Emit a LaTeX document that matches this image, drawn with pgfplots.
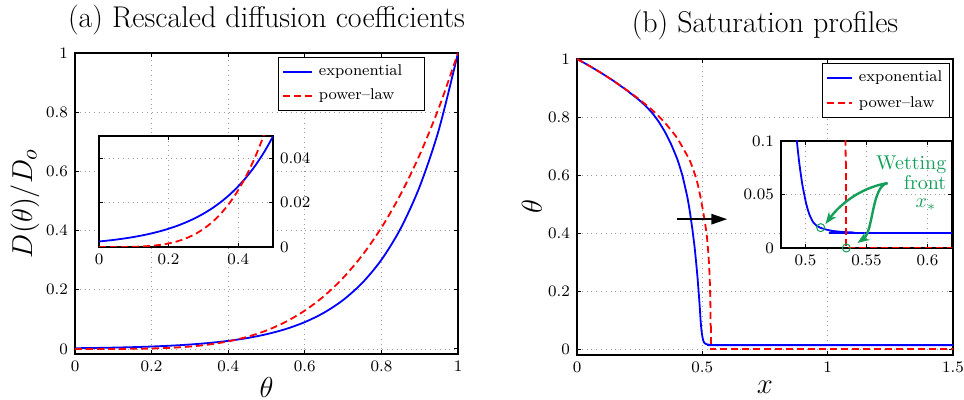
\documentclass[border=0pt]{standalone}
\usepackage{pgfplots}
\pgfplotsset{compat=1.18}
\usetikzlibrary{arrows.meta}
\definecolor{wetgreen}{RGB}{20,160,90}

\pgfplotsset{
  matstyle/.style={
    scale only axis,
    axis line style={line width=0.7pt},
    tick style={line width=0.5pt, black},
    major tick length=2pt,
    tick align=inside,
    grid=major,
    major grid style={dotted, gray!80, line width=0.4pt},
    tick label style={font=\fontsize{7.9}{9}\selectfont},
    label style={font=\fontsize{15}{17}\selectfont, inner sep=0pt},
    scaled ticks=false,
    clip mode=individual,
    /pgf/number format/fixed,
    legend cell align=left,
    legend style={font=\fontsize{7.8}{9.4}\selectfont, draw=black, line width=0.5pt,
      inner sep=1.8pt, row sep=1pt, /tikz/every odd column/.style={column sep=1pt}},
    legend image code/.code={\draw[#1] (0pt,0pt) -- (14.5pt,0pt);},
  },
  expo/.style={blue, line width=0.9pt},
  powl/.style={red, line width=0.9pt, dash pattern=on 3.5pt off 2pt},
}

% rescaled diffusion coefficients, theta vs D/Do
\pgfplotstableread{
th    expo      powl
0     0.002479  0
0.05  0.003346  0.0000063
0.1   0.004517  0.0001
0.15  0.006097  0.000506
0.2   0.008230  0.0016
0.25  0.011109  0.003906
0.3   0.014996  0.0081
0.35  0.020242  0.015006
0.4   0.027324  0.0256
0.45  0.036883  0.041006
0.5   0.049787  0.0625
0.55  0.067206  0.091506
0.6   0.090718  0.1296
0.65  0.122456  0.178506
0.7   0.165299  0.2401
0.75  0.223130  0.316406
0.8   0.301194  0.4096
0.85  0.406570  0.522006
0.9   0.548812  0.6561
0.95  0.740818  0.814506
1     1         1
}\coefs

\pgfplotstableread{
th     expo      powl
0      0.002479  0
0.025  0.002880  0.0000004
0.05   0.003346  0.0000063
0.075  0.003888  0.0000316
0.1    0.004517  0.0001
0.125  0.005248  0.000244
0.15   0.006097  0.000506
0.175  0.007084  0.000938
0.2    0.008230  0.0016
0.225  0.009562  0.002563
0.25   0.011109  0.003906
0.275  0.012907  0.005719
0.3    0.014996  0.0081
0.325  0.017424  0.011157
0.35   0.020242  0.015006
0.375  0.023518  0.019775
0.4    0.027324  0.0256
0.425  0.031746  0.032625
0.45   0.036883  0.041006
0.475  0.042852  0.050907
0.5    0.049787  0.0625
}\coefsfine

% saturation profiles
\pgfplotstableread{
x       th
0       1
0.05    0.976
0.1     0.95
0.15    0.922
0.2     0.891
0.25    0.857
0.275   0.837
0.3     0.814
0.325   0.785
0.35    0.75
0.375   0.707
0.4     0.655
0.42    0.60
0.44    0.525
0.45    0.475
0.46    0.415
0.47    0.345
0.48    0.255
0.485   0.20
0.49    0.142
0.493   0.1
0.495   0.079
0.4975  0.059
0.5005  0.042
0.503   0.032
0.506   0.0246
0.509   0.021
0.512   0.019
0.517   0.0172
0.522   0.016
0.53    0.015
0.54    0.0145
0.56    0.014
1.5     0.014
}\satexp

\pgfplotstableread{
x       th
0       1
0.05    0.976
0.1     0.95
0.15    0.922
0.2     0.892
0.25    0.86
0.3     0.824
0.35    0.781
0.4     0.727
0.45    0.65
0.475   0.59
0.487   0.548
0.5     0.49
0.51    0.44
0.518   0.39
0.523   0.341
0.527   0.29
0.53    0.23
0.532   0.16
0.533   0.08
}\satpow

\pgfplotstableread{
x       th
0.533   0.08
0.533   0
1.5     0
}\satpowtail

\begin{document}
\begin{tikzpicture}
\useasboundingbox (0,0) rectangle (482pt,200pt);

% (a)
\begin{axis}[matstyle, at={(37.5pt,23pt)}, anchor=south west,
  width=191.5pt, height=150.5pt,
  xmin=0, xmax=1, ymin=-0.017, ymax=1,
  xtick={0,0.2,0.4,0.6,0.8,1}, ytick={0,0.2,0.4,0.6,0.8,1},
  xlabel={$\theta$}, ylabel={$D(\theta)/D_o$},
  xlabel style={at={(axis description cs:0.5,-0.11)}, anchor=center},
  ylabel style={at={(axis description cs:-0.1305,0.5)}, anchor=center},
  legend style={at={(axis description cs:0.914,0.987)}, anchor=north east},
]
\addplot[expo, smooth] table[x=th, y=expo] {\coefs};
\addlegendentry{\makebox[49pt][l]{exponential}}
\addplot[powl, smooth] table[x=th, y=powl] {\coefs};
\addlegendentry{power--law}
\end{axis}

\begin{axis}[matstyle, at={(49.5pt,76.5pt)}, anchor=south west,
  width=87pt, height=55.5pt,
  axis background/.style={fill=white},
  xmin=0, xmax=0.5, ymin=0, ymax=0.05,
  xtick={0,0.2,0.4}, ytick={0,0.02,0.04},
  yticklabel pos=right,
]
\addplot[expo, smooth] table[x=th, y=expo] {\coefsfine};
\addplot[powl, smooth] table[x=th, y=powl] {\coefsfine};
\end{axis}

% (b)
\begin{axis}[matstyle, at={(288.5pt,22.5pt)}, anchor=south west,
  width=188pt, height=148pt,
  xmin=0, xmax=1.5, ymin=-0.02, ymax=1,
  xtick={0,0.5,1,1.5}, ytick={0,0.2,0.4,0.6,0.8,1},
  xlabel={$x$}, ylabel={$\theta$},
  xlabel style={at={(axis description cs:0.5,-0.108)}, anchor=center},
  ylabel style={at={(axis description cs:-0.1197,0.5)}, anchor=center},
  legend style={at={(axis description cs:0.992,0.986)}, anchor=north east,
    inner sep=1.6pt, row sep=1.8pt},
  legend image code/.code={\draw[#1] (0pt,0pt) -- (12.5pt,0pt);},
]
\addplot[expo, smooth, tension=0.3] table[x=x, y=th] {\satexp};
\addlegendentry{exponential}
\addplot[powl, smooth, tension=0.3] table[x=x, y=th] {\satpow};
\addlegendentry{power--law}
\addplot[powl, forget plot] table[x=x, y=th] {\satpowtail};
\draw[line width=1.3pt, -{Triangle[length=8pt, width=5pt]}]
  (axis cs:0.40,0.448) -- (axis cs:0.60,0.448);
\end{axis}

\begin{axis}[matstyle, at={(390.5pt,76pt)}, anchor=south west,
  width=85.5pt, height=53.5pt,
  axis background/.style={fill=white},
  xmin=0.48, xmax=0.62, ymin=0, ymax=0.1,
  xtick={0.5,0.55,0.6}, ytick={0,0.05,0.1},
]
\addplot[expo, smooth, tension=0.3] table[x=x, y=th] {\satexp};
\addplot[powl] table[x=x, y=th] {\satpow};
\addplot[powl] table[x=x, y=th] {\satpowtail};
\addplot[only marks, mark=o, mark size=2pt, wetgreen, mark options={line width=0.5pt}]
  coordinates {(0.5125,0.019) (0.5335,0)};
\draw[wetgreen, line width=1.2pt, -{Stealth[length=6pt, width=4.5pt]}]
  (axis cs:0.5672,0.0607) .. controls (axis cs:0.5443,0.0561) and (axis cs:0.5279,0.0402)
  .. (axis cs:0.5164,0.0224);
\draw[wetgreen, line width=1.2pt, -{Stealth[length=6pt, width=4.5pt]}]
  (axis cs:0.5672,0.0607) .. controls (axis cs:0.5541,0.058) and (axis cs:0.5557,0.015)
  .. (axis cs:0.5426,0.0047);
\node[wetgreen, anchor=base east, font=\fontsize{10}{12}\selectfont, inner sep=0pt]
  at (axis cs:0.6156,0.0729) {Wetting};
\node[wetgreen, anchor=base east, font=\fontsize{10}{12}\selectfont, inner sep=0pt]
  at (axis cs:0.6156,0.0542) {front};
\node[wetgreen, anchor=base east, font=\fontsize{10}{12}\selectfont, inner sep=0pt]
  at (axis cs:0.6074,0.0383) {$x_*$};
\end{axis}

% panel titles
\node[anchor=base, inner sep=0pt, font=\fontsize{15}{17}\selectfont]
  at (133.25pt,186pt) {(a) Rescaled diffusion coefficients};
\node[anchor=base, inner sep=0pt, font=\fontsize{15}{17}\selectfont]
  at (382.5pt,183.5pt) {(b) Saturation profiles};
\end{tikzpicture}
\end{document}
